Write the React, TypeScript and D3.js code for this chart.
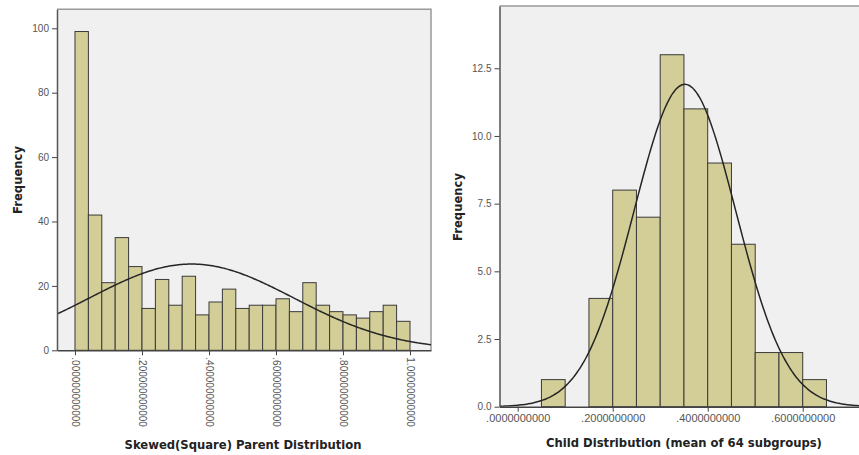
import React, { useEffect, useRef } from "react";
import * as d3 from "d3";

// parent (skewed) histogram, 25 bins from 0 to 1
const parentCounts = [99, 42, 21, 35, 26, 13, 22, 14, 23, 11, 15, 19, 13, 14, 14, 16, 12, 21, 14, 12, 11, 10, 12, 14, 9];
const parentBinStart = 0;
const parentBinWidth = 0.04;
const parentMean = 0.348;
const parentSd = 0.305;
const parentYTicks = [0, 20, 40, 60, 80, 100];
const parentXTicks = [0, 0.2, 0.4, 0.6, 0.8, 1.0];
const parentXLabels = [
  ".000000000000",
  ".200000000000",
  ".400000000000",
  ".600000000000",
  ".800000000000",
  "1.00000000000",
];

// child histogram, bins of 0.05 starting at .05
const childCounts = [1, 0, 4, 8, 7, 13, 11, 9, 6, 2, 2, 1];
const childBinStart = 0.05;
const childBinWidth = 0.05;
const childMean = 0.352;
const childSd = 0.1072;
const childYTicks = [0, 2.5, 5, 7.5, 10, 12.5];
const childXTicks = [0, 0.2, 0.4, 0.6];
const childXLabels = [".0000000000", ".2000000000", ".4000000000", ".6000000000"];

const FILL = "#d3ce97";
const FONT = "'Liberation Sans', Arial, sans-serif";
const TITLE_FONT = "'DejaVu Sans', Verdana, sans-serif";

function drawPanel(svg: any, o: any) {
  const x = d3.scaleLinear().domain(o.xDomain).range([o.left, o.right]);
  const y = d3.scaleLinear().domain(o.yDomain).range([o.bottom, o.top]);

  const g = svg.append("g");

  g.append("clipPath")
    .attr("id", o.id + "-clip")
    .append("rect")
    .attr("x", o.left)
    .attr("y", o.top)
    .attr("width", o.right - o.left)
    .attr("height", o.bottom - o.top);

  // plot background + frame
  g.append("rect")
    .attr("x", o.left)
    .attr("y", o.top)
    .attr("width", o.right - o.left)
    .attr("height", o.bottom - o.top)
    .attr("fill", "#f0f0f0");
  g.append("path")
    .attr("d", `M${o.left},${o.top}H${o.right}V${o.bottom}`)
    .attr("fill", "none")
    .attr("stroke", "#999")
    .attr("stroke-width", 1.5);

  // bars
  const bins = o.counts
    .map((c: number, i: number) => ({ x0: o.binStart + i * o.binWidth, count: c }))
    .filter((d: any) => d.count > 0);
  g.selectAll("rect.bar")
    .data(bins)
    .enter()
    .append("rect")
    .attr("class", "bar")
    .attr("x", (d: any) => x(d.x0))
    .attr("y", (d: any) => y(d.count))
    .attr("width", (d: any) => x(d.x0 + o.binWidth) - x(d.x0))
    .attr("height", (d: any) => y(0) - y(d.count))
    .attr("fill", FILL)
    .attr("stroke", "#3a3a3a")
    .attr("stroke-width", 1);

  // normal curve
  const n = d3.sum(o.counts);
  const peak = (n * o.binWidth) / (o.sd * Math.sqrt(2 * Math.PI));
  const xs = d3.range(0, 201).map((i) => o.xDomain[0] + ((o.xDomain[1] - o.xDomain[0]) * i) / 200);
  const line = d3
    .line<number>()
    .x((v) => x(v))
    .y((v) => y(peak * Math.exp(-0.5 * ((v - o.mean) / o.sd) ** 2)))
    .curve(d3.curveBasis);
  g.append("path")
    .datum(xs)
    .attr("d", line)
    .attr("clip-path", `url(#${o.id}-clip)`)
    .attr("fill", "none")
    .attr("stroke", "#262626")
    .attr("stroke-width", 1.5);

  // y axis
  const yAxis = g
    .append("g")
    .attr("transform", `translate(${o.left},0)`)
    .call(
      d3
        .axisLeft(y)
        .tickValues(o.yTicks)
        .tickSize(5)
        .tickSizeOuter(0)
        .tickFormat(o.yFormat)
    );
  yAxis.select(".domain").attr("stroke", "#555").attr("stroke-width", 1.5);
  yAxis.selectAll(".tick line").attr("stroke", "#444");
  yAxis
    .selectAll(".tick text")
    .attr("fill", "#555")
    .style("font-size", "10px")
    .style("font-family", FONT);

  // x axis
  const xAxis = g
    .append("g")
    .attr("transform", `translate(0,${o.bottom})`)
    .call(
      d3
        .axisBottom(x)
        .tickValues(o.xTicks)
        .tickSize(5)
        .tickSizeOuter(0)
        .tickFormat((d: any, i: number) => o.xLabels[i])
    );
  xAxis.select(".domain").attr("stroke", "#444").attr("stroke-width", 1.5);
  xAxis.selectAll(".tick line").attr("stroke", "#444");
  const xt = xAxis
    .selectAll(".tick text")
    .attr("fill", "#555")
    .style("font-family", FONT);
  if (o.rotate) {
    xt.style("font-size", "10px")
      .attr("transform", "rotate(90)")
      .attr("x", 7)
      .attr("y", 0)
      .attr("dy", "0.35em")
      .style("text-anchor", "start");
  } else {
    xt.style("font-size", "11px").attr("y", 8);
  }

  // titles
  g.append("text")
    .attr("x", o.titleX)
    .attr("y", o.titleY)
    .attr("text-anchor", "middle")
    .attr("font-family", TITLE_FONT)
    .attr("font-weight", "bold")
    .attr("font-size", 11.6)
    .attr("fill", "#222")
    .text(o.title);
  g.append("text")
    .attr("transform", `translate(${o.freqX},${o.freqY}) rotate(-90)`)
    .attr("text-anchor", "middle")
    .attr("font-family", TITLE_FONT)
    .attr("font-weight", "bold")
    .attr("font-size", 11.6)
    .attr("fill", "#222")
    .text("Frequency");
}

export default function App() {
  const ref = useRef<SVGSVGElement>(null);

  useEffect(() => {
    const svg = d3.select(ref.current);
    svg.selectAll("*").remove();
    svg.append("rect").attr("width", 859).attr("height", 455).attr("fill", "#fff");

    drawPanel(svg, {
      id: "parent",
      left: 57,
      right: 431,
      top: 9.3,
      bottom: 350.3,
      xDomain: [-0.0537, 1.0627],
      yDomain: [0, 105.9],
      counts: parentCounts,
      binStart: parentBinStart,
      binWidth: parentBinWidth,
      mean: parentMean,
      sd: parentSd,
      yTicks: parentYTicks,
      yFormat: d3.format("d"),
      xTicks: parentXTicks,
      xLabels: parentXLabels,
      rotate: true,
      title: "Skewed(Square) Parent Distribution",
      titleX: 243,
      titleY: 449,
      freqX: 22,
      freqY: 180,
    });

    drawPanel(svg, {
      id: "child",
      left: 499.5,
      right: 860,
      top: 6,
      bottom: 406.7,
      xDomain: [-0.0383, 0.7206],
      yDomain: [0, 14.8],
      counts: childCounts,
      binStart: childBinStart,
      binWidth: childBinWidth,
      mean: childMean,
      sd: childSd,
      yTicks: childYTicks,
      yFormat: d3.format(".1f"),
      xTicks: childXTicks,
      xLabels: childXLabels,
      rotate: false,
      title: "Child Distribution (mean of 64 subgroups)",
      titleX: 684,
      titleY: 447,
      freqX: 462,
      freqY: 207,
    });
  }, []);

  return (
    <svg
      ref={ref}
      width={859}
      height={455}
      style={{ position: "absolute", left: 0, top: 0, display: "block" }}
    />
  );
}
